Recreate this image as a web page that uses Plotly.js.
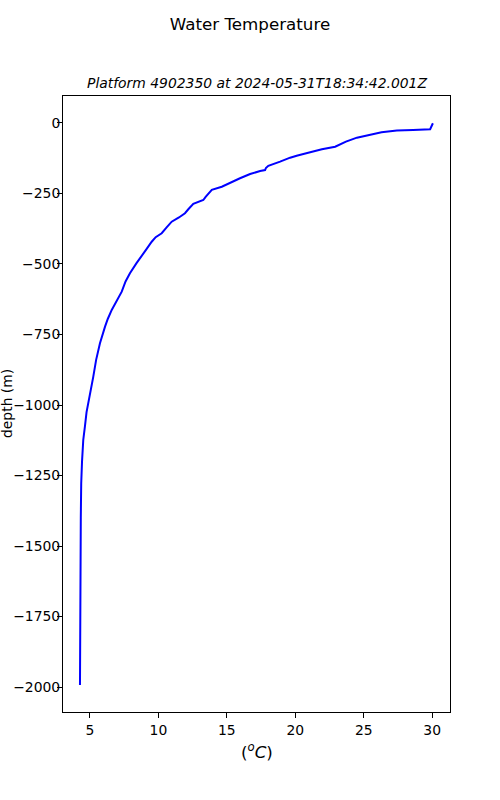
<!DOCTYPE html>
<html>
<head>
<meta charset="utf-8">
<script src="https://cdn.plot.ly/plotly-3.0.1.min.js"></script>
<style>html,body{margin:0;padding:0;background:#fff;}</style>
</head>
<body>
<div id="chart" style="width:500px;height:800px;"></div>
<script>
const temperature = [30.05, 29.98, 29.85, 28.6, 27.42, 26.3, 25.23, 24.5, 23.7, 22.91, 21.94, 21.2, 20.59, 20.1, 19.62, 18.89, 18.03, 17.85, 17.79, 17.43, 16.70, 15.96, 15.11, 14.63, 13.9, 13.65, 13.45, 13.28, 12.55, 12.2, 11.94, 11.5, 10.97, 10.6, 10.24, 9.8, 9.51, 9.09, 8.9, 8.4, 7.92, 7.6, 7.32, 6.95, 6.59, 6.3, 6.10, 5.73, 5.45, 5.24, 4.95, 4.75, 4.63, 4.51, 4.42, 4.36, 4.33, 4.32, 4.29, 4.27];
const depth = [-1, -8, -22, -25, -27, -33, -43, -52, -66, -84, -93, -101, -110, -116, -123, -137, -152, -160, -167, -170, -181, -196, -214, -226, -237, -249, -262, -273, -287, -305, -320, -335, -350, -370, -391, -405, -421, -450, -462, -497, -533, -562, -598, -630, -663, -695, -722, -781, -840, -900, -971, -1025, -1077, -1124, -1200, -1278, -1400, -1526, -1750, -1993];

const xTicks = [5, 10, 15, 20, 25, 30];
const yTicks = [-2000, -1750, -1500, -1250, -1000, -750, -500, -250, 0];

const font = "DejaVu Sans, sans-serif";

const trace = {
  x: temperature,
  y: depth,
  type: 'scatter',
  mode: 'lines',
  line: {color: '#0000ff', width: 2},
  hoverinfo: 'skip'
};

const layout = {
  width: 500,
  height: 800,
  paper_bgcolor: '#ffffff',
  plot_bgcolor: '#ffffff',
  showlegend: false,
  margin: {l: 63, r: 50, t: 96, b: 88, pad: 0},
  font: {family: font, color: '#000000', size: 14},
  title: {
    text: 'Water Temperature',
    font: {family: font, size: 16.7, color: '#000000'},
    x: 0.5, xref: 'container', xanchor: 'center',
    y: 1 - 24/800, yref: 'container', yanchor: 'middle'
  },
  xaxis: {
    range: [3.03, 31.3],
    tickvals: xTicks,
    ticktext: xTicks.map(String),
    ticks: 'outside', ticklen: 5, tickwidth: 1, tickcolor: '#000',
    showline: true, mirror: true, linecolor: '#000', linewidth: 1,
    showgrid: false, zeroline: false,
    tickfont: {family: font, size: 13.9, color: '#000'}
  },
  yaxis: {
    range: [-2088.6, 95.7],
    tickvals: yTicks,
    ticks: 'outside', ticklen: 5, tickwidth: 1, tickcolor: '#000',
    ticklabelstandoff: -6,
    showline: true, mirror: true, linecolor: '#000', linewidth: 1,
    showgrid: false, zeroline: false,
    tickfont: {family: font, size: 13.9, color: '#000'}
  },
  annotations: [
    {
      text: '<i>Platform 4902350 at 2024-05-31T18:34:42.001Z</i>',
      xref: 'paper', yref: 'paper', x: 0.5, y: 1 + 13/616,
      xanchor: 'center', yanchor: 'middle', showarrow: false,
      font: {family: font, size: 13.9, color: '#000'}
    },
    {
      text: '(<i><sup>o</sup>C</i>)',
      xref: 'paper', yref: 'paper', x: 0.5, y: -39/616,
      xanchor: 'center', yanchor: 'middle', showarrow: false,
      font: {family: font, size: 16.7, color: '#000'}
    },
    {
      text: 'depth (m)',
      xref: 'paper', yref: 'paper', x: (7 - 63)/387, y: 0.5,
      xanchor: 'center', yanchor: 'middle', showarrow: false, textangle: -90,
      font: {family: font, size: 13.9, color: '#000'}
    }
  ]
};

Plotly.newPlot('chart', [trace], layout, {displayModeBar: false, staticPlot: true});
</script>
</body>
</html>
